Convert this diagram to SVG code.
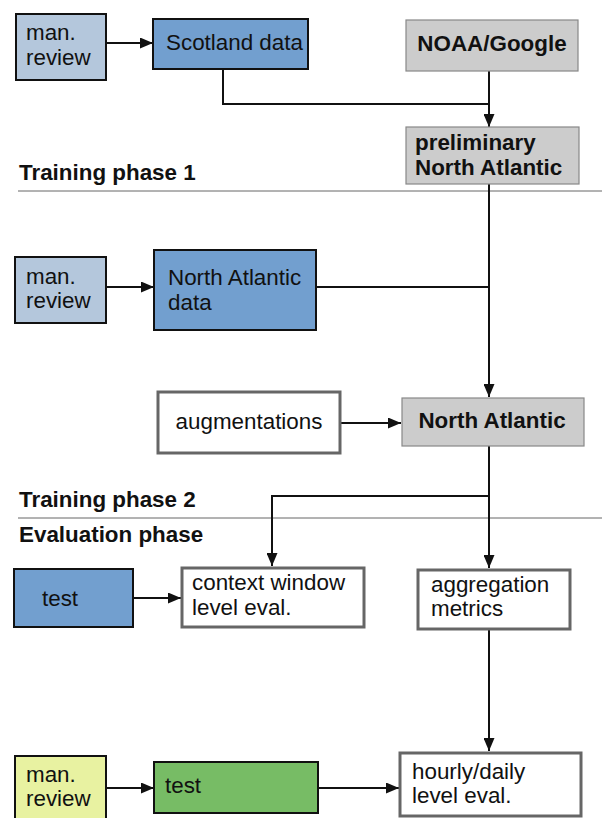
<svg xmlns="http://www.w3.org/2000/svg" width="602" height="818" viewBox="0 0 602 818">
<defs>
<style>
text{font-family:"Liberation Sans",Arial,sans-serif;font-size:22.4px;fill:#111}
.b{font-weight:bold}
.lb{fill:#b4c7dc;stroke:#111;stroke-width:2}
.db{fill:#729fcf;stroke:#111;stroke-width:2}
.gr{fill:#cccccc;stroke:#888;stroke-width:1.2}
.wh{fill:#fff;stroke:#666;stroke-width:3}
.ye{fill:#e8f2a1;stroke:#111;stroke-width:2}
.gn{fill:#77bc65;stroke:#111;stroke-width:2}
.c{fill:none;stroke:#111;stroke-width:2}
.sep{stroke:#666;stroke-width:1}
</style>
<marker id="ah" viewBox="0 0 13 11" refX="13" refY="5.5" markerWidth="13" markerHeight="11" markerUnits="userSpaceOnUse" orient="auto">
<path d="M0,0 L13,5.5 L0,11 Z" fill="#111"/>
</marker>
</defs>
<rect width="602" height="818" fill="#fff"/>
<g id="phases">
<text class="b" x="19" y="180">Training phase 1</text>
<line class="sep" x1="18" y1="191" x2="602" y2="191"/>
<text class="b" x="19" y="507">Training phase 2</text>
<line class="sep" x1="18" y1="518" x2="602" y2="518"/>
<text class="b" x="19" y="542">Evaluation phase</text>
</g>
<g id="connectors">
<line class="c" x1="106" y1="43" x2="153" y2="43" marker-end="url(#ah)"/>
<polyline class="c" points="223,69 223,104 489,104"/>
<line class="c" x1="489" y1="71" x2="489" y2="127" marker-end="url(#ah)"/>
<line class="c" x1="489" y1="184" x2="489" y2="397" marker-end="url(#ah)"/>
<line class="c" x1="106" y1="287" x2="154" y2="287" marker-end="url(#ah)"/>
<line class="c" x1="316" y1="287" x2="489" y2="287"/>
<line class="c" x1="340" y1="423" x2="401" y2="423" marker-end="url(#ah)"/>
<line class="c" x1="489" y1="446" x2="489" y2="568" marker-end="url(#ah)"/>
<polyline class="c" points="489,496 272,496 272,566" marker-end="url(#ah)"/>
<line class="c" x1="133" y1="598" x2="181" y2="598" marker-end="url(#ah)"/>
<line class="c" x1="489" y1="629" x2="489" y2="751" marker-end="url(#ah)"/>
<line class="c" x1="106" y1="788" x2="154" y2="788" marker-end="url(#ah)"/>
<line class="c" x1="318" y1="788" x2="399" y2="788" marker-end="url(#ah)"/>
</g>
<g id="review1"><rect class="lb" x="16" y="14" width="90" height="66"/><text x="26" y="40">man.</text><text x="26" y="65">review</text></g>
<g id="scotland"><rect class="db" x="153" y="19" width="155" height="50"/><text x="166" y="50">Scotland data</text></g>
<g id="noaa"><rect class="gr" x="406" y="20" width="172" height="51"/><text class="b" x="492" y="51" text-anchor="middle">NOAA/Google</text></g>
<g id="prelim"><rect class="gr" x="406" y="127" width="173" height="57"/><text class="b" x="415" y="150">preliminary</text><text class="b" x="415" y="175">North Atlantic</text></g>
<g id="review2"><rect class="lb" x="15" y="257" width="91" height="66"/><text x="26" y="284">man.</text><text x="26" y="308">review</text></g>
<g id="nadata"><rect class="db" x="154" y="250" width="162" height="80"/><text x="168" y="285">North Atlantic</text><text x="168" y="310">data</text></g>
<g id="aug"><rect class="wh" x="158" y="392" width="182" height="61"/><text x="249" y="429" text-anchor="middle">augmentations</text></g>
<g id="na"><rect class="gr" x="402" y="398" width="182" height="48"/><text class="b" x="492" y="428" text-anchor="middle">North Atlantic</text></g>
<g id="test1"><rect class="db" x="14" y="569" width="119" height="58"/><text x="42" y="606">test</text></g>
<g id="ctx"><rect class="wh" x="182" y="568" width="182" height="59"/><text x="192" y="590">context window</text><text x="192" y="615">level eval.</text></g>
<g id="agg"><rect class="wh" x="418" y="570" width="152" height="59"/><text x="431" y="592">aggregation</text><text x="431" y="616">metrics</text></g>
<g id="review3"><rect class="ye" x="15" y="756" width="91" height="70"/><text x="26" y="782">man.</text><text x="26" y="806">review</text></g>
<g id="test2"><rect class="gn" x="154" y="762" width="164" height="51"/><text x="165" y="793">test</text></g>
<g id="hourly"><rect class="wh" x="400" y="753" width="181" height="63"/><text x="412" y="779">hourly/daily</text><text x="412" y="803">level eval.</text></g>
</svg>
